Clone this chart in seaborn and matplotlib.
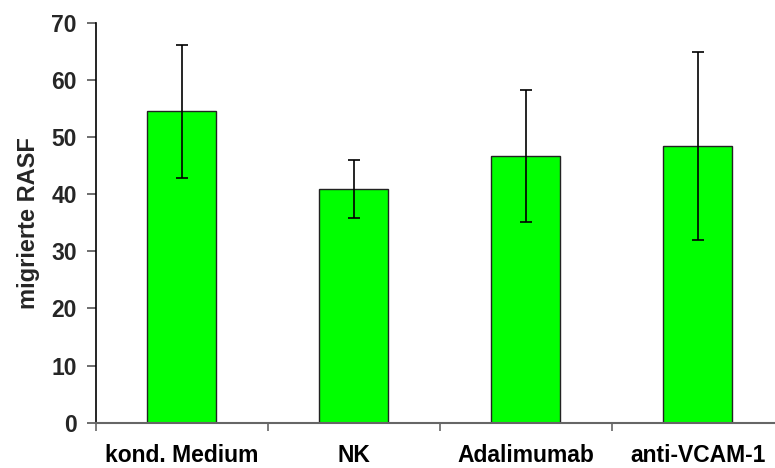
import matplotlib
matplotlib.use("Agg")
import matplotlib.pyplot as plt
import seaborn as sns
import numpy as np

# Migrated RASF per treatment condition (mean and error)
categories = ["kond. Medium", "NK", "Adalimumab", "anti-VCAM-1"]
means = [54.5, 40.9, 46.75, 48.45]
errors = [11.6, 5.1, 11.55, 16.45]
yticks = [0, 10, 20, 30, 40, 50, 60, 70]

sns.set_theme(style="white")
plt.rcParams["font.family"] = ["Liberation Sans", "DejaVu Sans"]
plt.rcParams["font.weight"] = "bold"

fig = plt.figure(figsize=(7.75, 4.68), dpi=100)
ax = fig.add_axes([95.6 / 775, 45.3 / 468, (783.6 - 95.6) / 775, 400 / 468])

sns.barplot(x=categories, y=means, color="#00FF00", saturation=1,
            edgecolor="#222222", linewidth=1.0, width=0.4, ax=ax)
ax.errorbar(np.arange(len(categories)), means, yerr=errors, fmt="none",
            ecolor="black", elinewidth=1.2, capsize=4, capthick=1.2)

ax.set_xlim(-0.5, len(categories) - 0.5)
ax.set_ylim(0, 70)
ax.set_yticks(yticks)
ax.set_yticklabels([str(v) for v in yticks], fontsize=16.5, fontweight="bold")
ax.set_xticks(np.arange(len(categories)))
ax.set_xticklabels(categories, fontsize=16.5, fontweight="bold")
ax.set_xticks(np.arange(len(categories)) - 0.5, minor=True)
ax.tick_params(axis="x", which="major", bottom=True, length=0, pad=15, colors="black")
ax.tick_params(axis="x", which="minor", bottom=True, length=6, width=1.2,
               color="#666666", direction="out")
ax.tick_params(axis="y", which="major", left=True, length=6.5, width=1.2,
               color="#555555", direction="out", pad=7)
ax.set_ylabel("migrierte RASF", fontsize=17, fontweight="bold", labelpad=8)
ax.set_xlabel("")

for side in ["top", "right"]:
    ax.spines[side].set_visible(False)
ax.spines["left"].set_color("black")
ax.spines["left"].set_linewidth(1.2)
ax.spines["bottom"].set_color("#666666")
ax.spines["bottom"].set_linewidth(1.5)
ax.spines["bottom"].set_zorder(3)

fig.savefig("out.png", dpi=100)
